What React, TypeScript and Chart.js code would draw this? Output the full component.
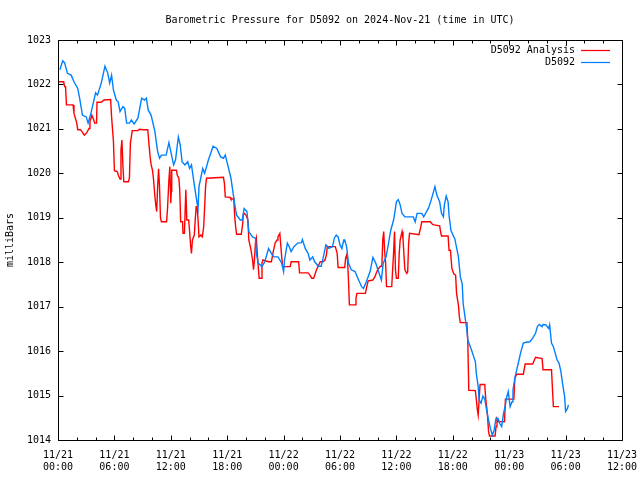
import React, { useEffect, useRef } from "react";
import { Chart, registerables } from "chart.js";

Chart.register(...registerables);

const TITLE = "Barometric Pressure for D5092 on 2024-Nov-21 (time in UTC)";
const Y_LABEL = "milliBars";
const SERIES_NAMES = ["D5092 Analysis", "D5092"];
const SERIES_COLORS = ["#ff0000", "#0080ff"];
const START_MONTH = 11;
const START_DAY = 21;
const X_MIN = 0;
const X_MAX = 60;
const X_MAJOR = 6;
const X_MINOR = 2;
const Y_MIN = 1014;
const Y_MAX = 1023;
const Y_STEP = 1;

// hours since 11/21 00:00 UTC
const analysisHours = [
  0.1, 0.6, 0.7, 0.8, 0.9, 1.6, 1.7, 2.0, 2.1, 2.4, 2.55, 2.8, 3.05, 3.3, 3.4, 3.6, 3.8, 3.9, 4.1, 4.15,
  4.6, 4.9, 5.6, 5.7, 5.9, 6.0, 6.3, 6.45, 6.6, 6.7, 6.8, 6.9, 7.0, 7.5, 7.6, 7.7, 7.9, 8.5, 8.65, 9.1,
  9.55, 9.7, 9.8, 9.9, 10.05, 10.15, 10.3, 10.4, 10.5, 10.6, 10.7, 10.8, 10.9, 11.0, 11.55, 11.65, 11.8, 11.9, 12.0, 12.05,
  12.1, 12.6, 12.7, 12.85, 12.95, 13.05, 13.25, 13.3, 13.45, 13.6, 13.7, 13.9, 14.0, 14.1, 14.2, 14.3, 14.5, 14.6, 14.7, 14.8,
  14.9, 15.0, 15.2, 15.35, 15.5, 15.6, 15.7, 15.8, 17.6, 17.7, 17.8, 18.3, 18.4, 18.6, 18.7, 18.8, 18.9, 19.0, 19.5, 19.65,
  19.7, 19.8, 20.0, 20.2, 20.3, 20.5, 20.7, 20.8, 20.9, 21.0, 21.1, 21.2, 21.3, 21.4, 21.6, 21.7, 21.8, 22.4, 22.7, 22.9,
  23.1, 23.3, 23.4, 23.6, 23.8, 23.9, 24.7, 24.8, 25.6, 25.7, 26.6, 26.8, 27.0, 27.2, 27.5, 27.9, 28.2, 28.4, 28.55, 28.65,
  29.5, 29.7, 29.8, 30.5, 30.6, 30.7, 30.8, 30.9, 31.0, 31.6, 31.7, 31.8, 32.7, 32.85, 33.0, 33.5, 33.7, 34.0, 34.3, 34.45,
  34.55, 34.65, 34.75, 34.85, 34.95, 35.5, 35.6, 35.7, 35.8, 35.9, 36.0, 36.2, 36.3, 36.4, 36.6, 36.7, 36.9, 37.1, 37.2, 37.3,
  37.4, 38.4, 38.6, 38.7, 39.6, 39.85, 40.0, 40.6, 40.7, 40.8, 41.5, 41.6, 41.75, 41.9, 42.1, 42.3, 42.4, 42.6, 42.7, 42.8,
  43.5, 43.6, 43.7, 44.4, 44.5, 44.6, 44.7, 44.8, 44.9, 45.4, 45.5, 45.6, 45.7, 45.8, 45.9, 46.5, 46.6, 46.7, 46.8, 47.5,
  47.6, 48.5, 48.6, 48.8, 49.5, 49.7, 50.5, 50.8, 51.5, 51.6, 52.5, 52.6, 52.7, 53.3,
];
const analysisValues = [
  1022.06, 1022.06, 1021.95, 1021.95, 1021.54, 1021.54, 1021.35, 1021.13, 1020.98, 1020.98, 1020.94, 1020.86, 1020.91, 1021.01, 1021.16, 1021.31, 1021.2, 1021.13, 1021.13, 1021.6,
  1021.6, 1021.65, 1021.66, 1021.27, 1020.71, 1020.06, 1020.04, 1019.94, 1019.87, 1020.52, 1020.75, 1020.2, 1019.81, 1019.81, 1019.9, 1020.68, 1020.96, 1020.96, 1020.99, 1020.98,
  1020.98, 1020.6, 1020.37, 1020.2, 1020.07, 1019.89, 1019.5, 1019.29, 1019.14, 1019.7, 1020.1, 1019.7, 1019.0, 1018.91, 1018.91, 1019.2, 1019.85, 1020.15, 1019.33, 1019.6,
  1020.07, 1020.07, 1019.95, 1019.9, 1019.63, 1018.91, 1018.91, 1018.65, 1018.65, 1019.63, 1018.95, 1018.95, 1018.7, 1018.39, 1018.2, 1018.5, 1018.61, 1018.95, 1019.25, 1019.25,
  1018.95, 1018.57, 1018.61, 1018.57, 1018.8, 1019.25, 1019.7, 1019.89, 1019.91, 1019.78, 1019.47, 1019.46, 1019.42, 1019.42, 1019.44, 1019.02, 1018.8, 1018.63, 1018.63, 1018.87,
  1019.06, 1019.1, 1019.06, 1018.95, 1018.5, 1018.31, 1018.05, 1017.83, 1018.05, 1018.43, 1018.54, 1018.2, 1017.9, 1017.64, 1017.64, 1017.98, 1018.05, 1018.01, 1018.01, 1018.24,
  1018.43, 1018.5, 1018.57, 1018.65, 1018.12, 1017.9, 1017.9, 1018.01, 1018.01, 1017.76, 1017.76, 1017.71, 1017.64, 1017.64, 1017.83, 1018.01, 1018.01, 1018.05, 1018.16, 1018.35,
  1018.35, 1018.2, 1017.88, 1017.88, 1018.1, 1018.16, 1018.05, 1017.6, 1017.04, 1017.04, 1017.19, 1017.3, 1017.3, 1017.45, 1017.58, 1017.6, 1017.67, 1017.83, 1017.91, 1017.91,
  1018.5, 1018.69, 1018.24, 1018.0, 1017.45, 1017.45, 1017.83, 1018.2, 1018.69, 1017.83, 1017.64, 1017.64, 1018.2, 1018.5, 1018.69, 1018.54, 1017.83, 1017.75, 1017.78, 1018.43,
  1018.65, 1018.62, 1018.8, 1018.91, 1018.91, 1018.85, 1018.84, 1018.82, 1018.69, 1018.59, 1018.59, 1018.27, 1018.27, 1017.86, 1017.74, 1017.71, 1017.3, 1017.03, 1016.77, 1016.64,
  1016.64, 1016.18, 1015.12, 1015.11, 1014.92, 1014.7, 1014.56, 1014.9, 1015.25, 1015.25, 1014.93, 1014.75, 1014.52, 1014.2, 1014.09, 1014.09, 1014.3, 1014.47, 1014.42, 1014.41,
  1014.92, 1014.92, 1015.39, 1015.48, 1015.48, 1015.71, 1015.71, 1015.86, 1015.83, 1015.58, 1015.58, 1015.16, 1014.75, 1014.75,
];

const d5092Hours = [
  0.2, 0.5, 0.7, 1.0, 1.4, 1.7, 2.1, 2.3, 2.6, 3.0, 3.2, 3.5, 4.0, 4.2, 4.6, 5.0, 5.3, 5.5, 5.7, 5.9,
  6.2, 6.4, 6.6, 6.9, 7.1, 7.3, 7.6, 7.8, 8.1, 8.5, 8.9, 9.2, 9.4, 9.6, 9.9, 10.3, 10.6, 10.8, 11.0, 11.5,
  11.8, 12.0, 12.3, 12.5, 12.8, 13.0, 13.2, 13.5, 13.8, 14.0, 14.2, 14.5, 14.8, 14.9, 15.0, 15.4, 15.6, 16.0, 16.5, 16.9,
  17.3, 17.6, 17.8, 18.1, 18.4, 18.7, 18.9, 19.0, 19.4, 19.6, 19.8, 20.1, 20.3, 20.7, 21.0, 21.1, 21.3, 21.7, 22.0, 22.4,
  22.7, 22.8, 23.0, 23.4, 23.8, 24.0, 24.1, 24.4, 24.6, 24.8, 25.1, 25.5, 25.9, 26.0, 26.3, 26.6, 26.8, 27.1, 27.3, 27.7,
  28.0, 28.2, 28.5, 28.7, 28.8, 29.2, 29.4, 29.6, 29.8, 30.0, 30.2, 30.4, 30.5, 30.7, 30.9, 31.2, 31.6, 31.9, 32.3, 32.5,
  32.8, 33.2, 33.5, 33.8, 34.1, 34.4, 34.6, 34.9, 35.1, 35.4, 35.7, 35.9, 36.0, 36.2, 36.4, 36.6, 36.9, 37.8, 38.0, 38.2,
  38.7, 38.9, 39.4, 39.6, 39.9, 40.1, 40.3, 40.6, 40.8, 41.0, 41.1, 41.3, 41.5, 41.6, 41.8, 42.1, 42.2, 42.6, 42.8, 43.0,
  43.1, 43.3, 43.5, 43.6, 44.0, 44.4, 44.5, 44.7, 44.8, 45.0, 45.2, 45.4, 45.6, 45.8, 46.0, 46.1, 46.2, 46.4, 46.6, 46.8,
  47.0, 47.2, 47.4, 47.6, 47.7, 47.9, 48.1, 48.3, 48.4, 48.6, 48.8, 49.0, 49.2, 49.5, 49.8, 50.2, 50.5, 50.8, 51.0, 51.2,
  51.5, 51.6, 51.9, 52.2, 52.3, 52.5, 52.7, 52.9, 53.1, 53.3, 53.5, 53.7, 53.9, 54.0, 54.2, 54.3,
];
const d5092Values = [
  1022.33, 1022.53, 1022.49, 1022.25, 1022.21, 1022.06, 1021.91, 1021.69, 1021.31, 1021.27, 1021.13, 1021.35, 1021.81, 1021.76, 1022.03, 1022.41, 1022.25, 1022.03, 1022.21, 1021.87,
  1021.65, 1021.61, 1021.39, 1021.5, 1021.46, 1021.13, 1021.13, 1021.2, 1021.11, 1021.24, 1021.69, 1021.65, 1021.69, 1021.42, 1021.31, 1020.95, 1020.49, 1020.34, 1020.41, 1020.41,
  1020.69, 1020.49, 1020.19, 1020.3, 1020.82, 1020.64, 1020.26, 1020.19, 1020.26, 1020.11, 1020.19, 1019.74, 1019.33, 1019.21, 1019.7, 1020.11, 1020.0, 1020.3, 1020.61, 1020.56,
  1020.37, 1020.34, 1020.41, 1020.15, 1019.89, 1019.44, 1019.17, 1019.06, 1018.95, 1018.95, 1019.21, 1019.14, 1018.69, 1018.57, 1018.54, 1018.2, 1017.98, 1017.9, 1018.01, 1018.31,
  1018.2, 1018.16, 1018.12, 1018.12, 1017.98, 1017.79, 1018.05, 1018.43, 1018.35, 1018.24, 1018.35, 1018.43, 1018.44, 1018.51, 1018.31, 1018.2, 1018.05, 1018.12, 1018.01, 1017.91,
  1017.91, 1018.09, 1018.39, 1018.35, 1018.31, 1018.35, 1018.54, 1018.61, 1018.57, 1018.39, 1018.31, 1018.5, 1018.5, 1018.35, 1017.98, 1017.83, 1017.79, 1017.64, 1017.45, 1017.41,
  1017.56, 1017.79, 1018.11, 1017.98, 1017.79, 1017.6, 1017.98, 1018.12, 1018.35, 1018.72, 1018.95, 1019.21, 1019.36, 1019.41, 1019.29, 1019.1, 1019.02, 1019.02, 1018.91, 1019.1,
  1019.1, 1019.02, 1019.21, 1019.33, 1019.55, 1019.7, 1019.51, 1019.36, 1019.1, 1019.02, 1019.29, 1019.49, 1019.36, 1019.06, 1018.72, 1018.57, 1018.54, 1018.12, 1017.67, 1017.52,
  1017.07, 1016.77, 1016.47, 1016.25, 1016.02, 1015.76, 1015.5, 1015.2, 1014.9, 1014.83, 1014.99, 1014.92, 1014.67, 1014.45, 1014.26, 1014.19, 1014.11, 1014.22, 1014.49, 1014.49,
  1014.37, 1014.3, 1014.6, 1014.79, 1014.94, 1015.09, 1014.75, 1014.86, 1015.12, 1015.39, 1015.58, 1015.76, 1015.95, 1016.18, 1016.2, 1016.21, 1016.29, 1016.4, 1016.55, 1016.6,
  1016.55, 1016.6, 1016.59, 1016.51, 1016.59, 1016.18, 1016.1, 1015.95, 1015.8, 1015.73, 1015.54, 1015.24, 1014.97, 1014.64, 1014.71, 1014.79,
];

const FONT_FAMILY = "'DejaVu Sans Mono', 'Liberation Mono', monospace";

function xLabel(v: number): string[] {
  const day = START_DAY + Math.floor(v / 24);
  const hh = Math.round(v % 24);
  return [`${START_MONTH}/${day}`, `${String(hh).padStart(2, "0")}:00`];
}

const gnuplotFrame = {
  id: "gnuplotFrame",
  beforeDraw(chart: any) {
    const { ctx, width, height } = chart;
    ctx.save();
    ctx.fillStyle = "#ffffff";
    ctx.fillRect(0, 0, width, height);
    ctx.restore();
  },
  afterDraw(chart: any) {
    const { ctx, chartArea: a, scales } = chart;
    const xs = scales.x;
    const ys = scales.y;
    ctx.save();
    const L = Math.round(a.left) + 0.5;
    const R = Math.round(a.right) + 0.5;
    const T = Math.round(a.top) + 0.5;
    const B = Math.round(a.bottom) + 0.5;
    ctx.strokeStyle = "#000000";
    ctx.lineWidth = 1;
    ctx.beginPath();
    ctx.rect(L, T, R - L, B - T);
    for (let h = X_MIN; h <= X_MAX; h += X_MINOR) {
      const px = Math.round(xs.getPixelForValue(h)) + 0.5;
      const len = h % X_MAJOR === 0 ? 5 : 3;
      ctx.moveTo(px, B);
      ctx.lineTo(px, B - len);
      ctx.moveTo(px, T);
      ctx.lineTo(px, T + len);
    }
    for (const t of ys.ticks) {
      const py = Math.round(ys.getPixelForValue(t.value)) + 0.5;
      ctx.moveTo(L, py);
      ctx.lineTo(L + 5, py);
      ctx.moveTo(R, py);
      ctx.lineTo(R - 5, py);
    }
    ctx.stroke();

    ctx.fillStyle = "#000000";
    ctx.font = `10px ${FONT_FAMILY}`;
    ctx.textBaseline = "middle";
    ctx.textAlign = "center";
    ctx.fillText(TITLE, (a.left + a.right) / 2, 20.5);

    ctx.save();
    ctx.translate(10, (a.top + a.bottom) / 2);
    ctx.rotate(-Math.PI / 2);
    ctx.fillText(Y_LABEL, 0, 0);
    ctx.restore();

    chart.data.datasets.forEach((ds: any, i: number) => {
      const y = a.top + 10 + i * 12;
      ctx.textAlign = "right";
      ctx.fillStyle = "#000000";
      ctx.fillText(ds.label, a.right - 47, y);
      ctx.strokeStyle = ds.borderColor;
      ctx.lineWidth = 1.25;
      ctx.beginPath();
      ctx.moveTo(a.right - 41, Math.round(y) + 0.5);
      ctx.lineTo(a.right - 12, Math.round(y) + 0.5);
      ctx.stroke();
    });
    ctx.restore();
  },
};

export default function App() {
  const canvasRef = useRef<HTMLCanvasElement | null>(null);

  useEffect(() => {
    const canvas = canvasRef.current;
    if (!canvas) return;
    const tickFont = { family: FONT_FAMILY, size: 10, lineHeight: 1.25 };
    const chart = new Chart(canvas, {
      type: "line",
      data: {
        datasets: [
          {
            label: SERIES_NAMES[0],
            data: analysisHours.map((h, i) => ({ x: h, y: analysisValues[i] })),
            borderColor: SERIES_COLORS[0],
            backgroundColor: SERIES_COLORS[0],
            borderWidth: 1.4,
            pointRadius: 0,
            tension: 0,
            fill: false,
            order: 1,
          },
          {
            label: SERIES_NAMES[1],
            data: d5092Hours.map((h, i) => ({ x: h, y: d5092Values[i] })),
            borderColor: SERIES_COLORS[1],
            backgroundColor: SERIES_COLORS[1],
            borderWidth: 1.4,
            pointRadius: 0,
            tension: 0,
            fill: false,
            order: 0,
          },
        ],
      },
      options: {
        responsive: false,
        animation: false,
        events: [],
        layout: { padding: { top: 40, right: 18, left: 0, bottom: 0 } },
        plugins: {
          legend: { display: false },
          title: { display: false },
          tooltip: { enabled: false },
        },
        scales: {
          x: {
            type: "linear",
            min: X_MIN,
            max: X_MAX,
            afterFit: (s: any) => {
              s.height = 40;
              s.paddingLeft = 0;
              s.paddingRight = 0;
            },
            grid: { display: false, drawTicks: false },
            border: { display: false },
            ticks: {
              stepSize: X_MAJOR,
              autoSkip: false,
              maxRotation: 0,
              minRotation: 0,
              padding: 9,
              color: "#000000",
              font: tickFont,
              callback: (v: any) => xLabel(Number(v)),
            },
          },
          y: {
            type: "linear",
            min: Y_MIN,
            max: Y_MAX,
            afterFit: (s: any) => {
              s.width = 58;
              s.paddingTop = 0;
              s.paddingBottom = 0;
            },
            grid: { display: false, drawTicks: false },
            border: { display: false },
            ticks: {
              stepSize: Y_STEP,
              autoSkip: false,
              padding: 7,
              color: "#000000",
              font: tickFont,
              callback: (v: any) => String(v),
            },
          },
        },
      },
      plugins: [gnuplotFrame],
    });
    return () => chart.destroy();
  }, []);

  return (
    <div style={{ position: "fixed", left: 0, top: 0, width: 640, height: 480, background: "#fff" }}>
      <canvas ref={canvasRef} width={640} height={480} style={{ display: "block", width: 640, height: 480 }} />
    </div>
  );
}
